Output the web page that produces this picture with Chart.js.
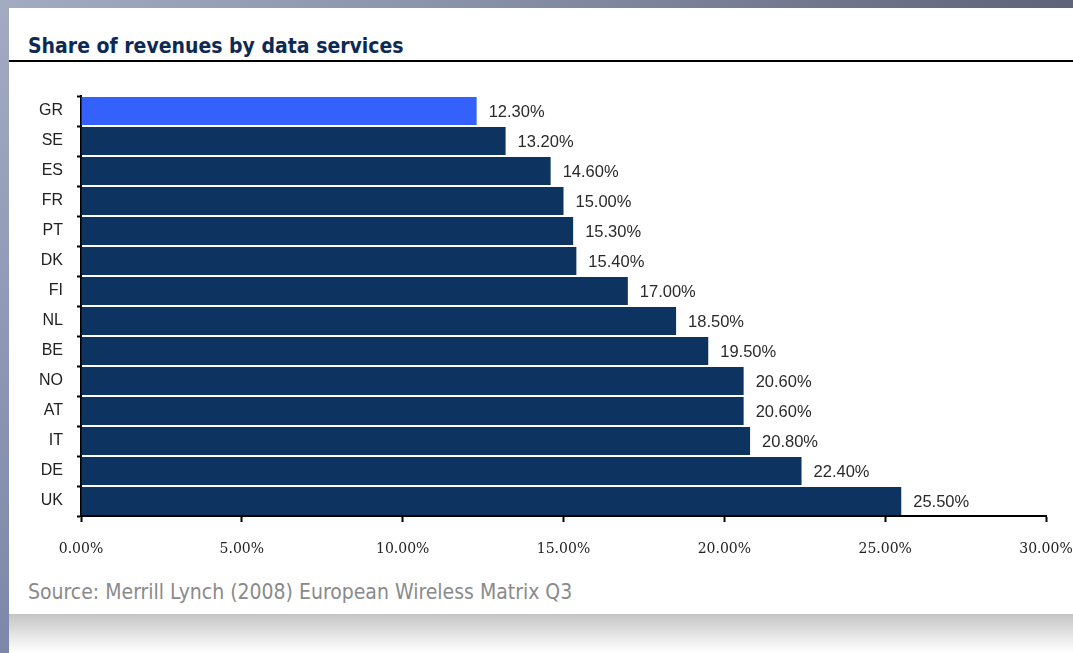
<!DOCTYPE html>
<html>
<head>
<meta charset="utf-8">
<script src="https://cdn.jsdelivr.net/npm/chart.js@4/dist/chart.umd.min.js"></script>
<style>
html,body{margin:0;padding:0;width:1073px;height:653px;overflow:hidden;background:#fff;}
#topband{position:absolute;left:0;top:0;width:1073px;height:8px;background:linear-gradient(to right,#a3abc3 0%,#8c94ac 40%,#5d6479 100%);}
#leftband{position:absolute;left:0;top:0;width:9px;height:653px;background:linear-gradient(to bottom,#a3abc3 0%,#8b95b3 60%,#7d88a8 100%);}
#bottomband{position:absolute;left:9px;top:614px;width:1064px;height:39px;background:linear-gradient(to bottom,#c4c4c4 0%,#e6e6e6 55%,#ffffff 100%);}
#title{position:absolute;left:28px;top:34px;font-family:"DejaVu Sans Condensed","DejaVu Sans",sans-serif;font-weight:bold;font-size:21px;color:#0d2a55;}
#rule{position:absolute;left:9px;top:60px;width:1064px;height:2px;background:#000;}
#source{position:absolute;left:28px;top:580px;font-family:"DejaVu Sans Condensed","DejaVu Sans",sans-serif;font-size:21px;color:#8a8a8a;}
#wrap{position:absolute;left:0;top:0;width:1073px;height:653px;}
</style>
</head>
<body>
<div id="topband"></div>
<div id="leftband"></div>
<div id="bottomband"></div>
<div id="title">Share of revenues by data services</div>
<div id="rule"></div>
<div id="source">Source: Merrill Lynch (2008) European Wireless Matrix Q3</div>
<div id="wrap"><canvas id="c" width="1073" height="653"></canvas></div>
<script>
const countries = ["GR","SE","ES","FR","PT","DK","FI","NL","BE","NO","AT","IT","DE","UK"];
const shares = [12.3,13.2,14.6,15.0,15.3,15.4,17.0,18.5,19.5,20.6,20.6,20.8,22.4,25.5];
const xTicks = [0,5,10,15,20,25,30];
const barColors = countries.map(c => c === "GR" ? "#3461fb" : "#0d3360");

const labelPlugin = {
  id: 'valueLabels',
  afterDatasetsDraw(chart) {
    const ctx = chart.ctx;
    const meta = chart.getDatasetMeta(0);
    ctx.save();
    ctx.font = '16.5px "Liberation Sans", Arial, sans-serif';
    ctx.fillStyle = '#2a2a2a';
    ctx.textAlign = 'left';
    ctx.textBaseline = 'middle';
    meta.data.forEach((bar, i) => {
      ctx.fillText(shares[i].toFixed(2) + '%', bar.x + 12, bar.y + 1);
    });
    ctx.restore();
  }
};

new Chart(document.getElementById('c'), {
  type: 'bar',
  data: {
    labels: countries,
    datasets: [{
      data: shares,
      backgroundColor: barColors,
      borderWidth: 0,
      barPercentage: 0.93,
      categoryPercentage: 1.0
    }]
  },
  options: {
    indexAxis: 'y',
    responsive: false,
    animation: false,
    devicePixelRatio: 1,
    layout: { padding: { left: 0, top: 96, right: 27, bottom: 97 } },
    plugins: { legend: { display: false }, tooltip: { enabled: false } },
    scales: {
      x: {
        min: 0, max: 30,
        afterFit(s) { s.height = 40; s.paddingRight = 0; s.paddingLeft = 0; },
        afterBuildTicks(s) { s.ticks = xTicks.map(v => ({ value: v })); },
        border: { color: '#000', width: 2 },
        grid: { drawOnChartArea: false, tickLength: 6, color: '#000', tickWidth: 2 },
        ticks: {
          padding: 19,
          color: '#222',
          maxRotation: 0,
          font: { family: '"DejaVu Serif", serif', size: 14 },
          callback: v => Number(v).toFixed(2) + '%'
        }
      },
      y: {
        afterFit(s) { s.width = 81; s.paddingTop = 0; s.paddingBottom = 0; },
        border: { color: '#000', width: 2 },
        grid: { drawOnChartArea: false, offset: true, tickLength: 4, color: '#000', tickWidth: 2 },
        ticks: {
          padding: 14,
          color: '#222',
          font: { family: '"Liberation Sans", Arial, sans-serif', size: 16 }
        }
      }
    }
  },
  plugins: [labelPlugin]
});
</script>
</body>
</html>
